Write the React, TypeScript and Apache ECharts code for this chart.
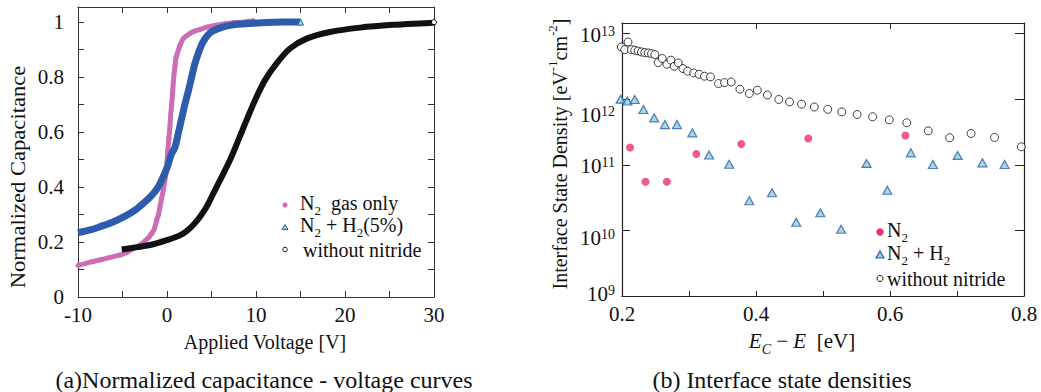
import React, { useEffect, useRef } from 'react';
import * as echarts from 'echarts';

const FONT = '"Liberation Serif", "Times New Roman", serif';

// ---- (a) Normalized capacitance - voltage curves ----
const n2GasV = [-10, -8.5, -7.5, -6.5, -5.25, -4.5, -3.75, -3, -2.6, -2.1, -1.7, -1.4, -1.16, -0.95, -0.79, -0.6, -0.41, -0.11, 0.08, 0.22, 0.34, 0.41, 0.52, 0.64, 0.71, 0.79, 0.9, 1.01, 1.2, 1.46, 1.83, 2.2, 2.58, 3.1, 3.7, 4.5, 5.58, 6.5, 7.45, 8.5, 9.7];
const n2GasC = [0.115, 0.128, 0.135, 0.143, 0.153, 0.163, 0.177, 0.19, 0.2, 0.215, 0.232, 0.25, 0.28, 0.3, 0.328, 0.36, 0.389, 0.45, 0.53, 0.58, 0.625, 0.66, 0.7, 0.75, 0.78, 0.81, 0.84, 0.87, 0.89, 0.916, 0.94, 0.95, 0.959, 0.967, 0.973, 0.982, 0.989, 0.994, 0.998, 1.0, 1.005];

const n2h2V = [-10, -8.5, -7.5, -6, -4.5, -3.5, -2.66, -2, -1.5, -1, -0.6, 0, 0.5, 0.9, 1.3, 1.65, 2.0, 2.4, 2.77, 3.1, 3.5, 4.0, 4.8, 5.9, 7.45, 9.3, 11.2, 13, 15];
const n2h2C = [0.234, 0.245, 0.256, 0.274, 0.298, 0.318, 0.341, 0.36, 0.378, 0.4, 0.425, 0.47, 0.52, 0.545, 0.6, 0.65, 0.7, 0.75, 0.8, 0.845, 0.885, 0.925, 0.96, 0.978, 0.99, 0.995, 0.999, 1.0, 1.0];

const noNitV = [-5.09, -4, -3, -1.91, -1, -0.03, 1, 1.65, 2.2, 2.77, 3.3, 3.71, 4.2, 4.64, 5.39, 5.96, 7.08, 8.02, 8.95, 9.89, 11.01, 12.32, 13.82, 15.69, 18.3, 21.7, 25.4, 29.9, 30];
const noNitC = [0.173, 0.178, 0.183, 0.189, 0.197, 0.207, 0.218, 0.228, 0.24, 0.256, 0.275, 0.292, 0.315, 0.34, 0.389, 0.425, 0.498, 0.571, 0.644, 0.716, 0.789, 0.85, 0.904, 0.94, 0.964, 0.98, 0.99, 0.998, 1.0];

// ---- (b) Interface state densities ----
const nitE = [0.199, 0.204, 0.209, 0.214, 0.219, 0.224, 0.229, 0.234, 0.239, 0.244, 0.249, 0.254, 0.26, 0.267, 0.273, 0.278, 0.284, 0.291, 0.298, 0.307, 0.315, 0.323, 0.332, 0.344, 0.353, 0.363, 0.376, 0.39, 0.402, 0.417, 0.434, 0.45, 0.468, 0.487, 0.507, 0.528, 0.551, 0.574, 0.599, 0.625, 0.657, 0.689, 0.721, 0.756, 0.796];
const nitD = [6.25e12, 5.7e12, 7.45e12, 5.7e12, 5.57e12, 5.43e12, 5.25e12, 5.13e12, 5.07e12, 4.95e12, 4.79e12, 3.62e12, 4.17e12, 3.41e12, 3.93e12, 3.18e12, 3.57e12, 2.93e12, 2.67e12, 2.51e12, 2.4e12, 2.24e12, 2.19e12, 1.73e12, 1.79e12, 1.83e12, 1.42e12, 1.22e12, 1.37e12, 1.16e12, 9.9e11, 9.1e11, 8.4e11, 7.6e11, 7.0e11, 6.4e11, 5.85e11, 5.4e11, 4.84e11, 4.37e11, 3.29e11, 2.58e11, 3.0e11, 2.61e11, 1.88e11];

const h2E = [0.198, 0.208, 0.219, 0.232, 0.248, 0.264, 0.282, 0.305, 0.33, 0.36, 0.39, 0.424, 0.46, 0.496, 0.527, 0.565, 0.596, 0.631, 0.664, 0.701, 0.738, 0.771];
const h2D = [1.0e12, 9.4e11, 9.9e11, 6.97e11, 5.2e11, 4.1e11, 4.1e11, 3.07e11, 1.41e11, 1.02e11, 2.83e10, 3.75e10, 1.33e10, 1.86e10, 1.04e10, 1.05e11, 4.1e10, 1.52e11, 1.01e11, 1.39e11, 1.07e11, 1.01e11];

const n2E = [0.212, 0.235, 0.267, 0.311, 0.378, 0.478, 0.623];
const n2D = [1.84e11, 5.5e10, 5.5e10, 1.46e11, 2.07e11, 2.52e11, 2.8e11];

const xTicksA = [-10, 0, 10, 20, 30];
const yTicksA = ['0', '0.2', '0.4', '0.6', '0.8', '1'];
const logExps = [9, 10, 11, 12, 13];

const PINK_A = '#cc6db6';
const BLUE_A = '#2c5cab';
const CYAN_A = '#8fd3e3';
const PINK_B = '#ee2c7a';
const BLUE_B = '#2f5fae';
const CYAN_B = '#8fcfd5';

const zip = (xs: number[], ys: number[]) => xs.map((x, i) => [x, ys[i]]);

const txt = (size: number, extra: any = {}) => ({ fontSize: size, fontFamily: FONT, fill: '#111', ...extra });

// vertical nudges of the power-of-ten labels, as in the reference
const labelShift: Record<number, number> = { 9: -20, 10: 5, 11: 2, 12: 9, 13: 2 };
const logRich: Record<string, any> = {};
logExps.forEach((e) => {
  const d = labelShift[e];
  const pad = d >= 0 ? [2 * d, 0, 0, 0] : [0, 0, -2 * d, 0];
  logRich['b' + e] = { fontFamily: FONT, fontSize: 21, color: '#111', lineHeight: 26, verticalAlign: 'top', padding: pad };
  logRich['e' + e] = { fontFamily: FONT, fontSize: 14, color: '#111', lineHeight: 14, verticalAlign: 'top', padding: pad };
});

export default function App() {
  const ref = useRef<HTMLDivElement>(null);
  useEffect(() => {
    document.body.style.margin = '0';
    const chart = echarts.init(ref.current!, null, { renderer: 'svg' });
    const lineA = { show: true, onZero: false, lineStyle: { color: '#333', width: 1 } };
    const tickA = { show: true, inside: true, length: 6, lineStyle: { color: '#333', width: 1 } };
    const lineB = { show: true, onZero: false, lineStyle: { color: '#222', width: 1.2 } };
    const labelFont = { fontFamily: FONT, color: '#111' };
    const lastNoNit = noNitV.length - 1;
    const lastH2 = n2h2V.length - 1;
    const option: any = {
      animation: false,
      backgroundColor: '#fff',
      grid: [
        { left: 78, top: 7, width: 356, height: 290 },
        { left: 622, top: 23, width: 402, height: 273 },
      ],
      xAxis: [
        {
          gridIndex: 0, type: 'value', min: -10, max: 30, interval: 5, position: 'bottom',
          axisLine: lineA, axisTick: tickA, splitLine: { show: false },
          axisLabel: { ...labelFont, fontSize: 21, margin: 7, formatter: (v: number) => (xTicksA.includes(v) ? String(v) : '') },
        },
        {
          gridIndex: 0, type: 'value', min: -10, max: 30, interval: 5, position: 'top',
          axisLine: lineA, axisTick: tickA, splitLine: { show: false }, axisLabel: { show: false },
        },
        {
          gridIndex: 1, type: 'value', min: 0.2, max: 0.8, interval: 0.1, position: 'bottom',
          axisLine: lineB, axisTick: { show: true, inside: true, length: 5, lineStyle: { color: '#222' } }, splitLine: { show: false },
          axisLabel: {
            ...labelFont, fontSize: 21, margin: 7,
            formatter: (v: number) => (Math.round(v * 10) % 2 === 0 ? v.toFixed(1) : ''),
          },
        },
        {
          gridIndex: 1, type: 'value', min: 0.2, max: 0.8, interval: 0.2, position: 'top',
          axisLine: lineB, axisTick: { show: true, inside: true, length: 6, lineStyle: { color: '#222' } }, splitLine: { show: false }, axisLabel: { show: false },
        },
      ],
      yAxis: [
        {
          gridIndex: 0, type: 'value', min: 0, max: 1.055, interval: 0.1, position: 'left',
          axisLine: lineA, axisTick: tickA, splitLine: { show: false },
          axisLabel: {
            ...labelFont, fontSize: 21, margin: 14,
            formatter: (v: number) => {
              const r = Math.round(v * 10);
              if (Math.abs(v * 10 - r) > 1e-6 || r % 2 !== 0 || r > 10) return '';
              return yTicksA[r / 2];
            },
          },
        },
        {
          gridIndex: 0, type: 'value', min: 0, max: 1.055, interval: 0.1, position: 'right',
          axisLine: lineA, axisTick: tickA, splitLine: { show: false }, axisLabel: { show: false },
        },
        {
          gridIndex: 1, type: 'log', logBase: 10, min: 1e9, max: 1.45e13, position: 'left',
          axisLine: lineB, axisTick: { show: true, inside: true, length: 8, lineStyle: { color: '#222' } }, splitLine: { show: false },
          axisLabel: {
            margin: 7,
            formatter: (v: number) => {
              const l = Math.log10(v);
              const e = Math.round(l);
              if (Math.abs(l - e) > 0.01 || !logExps.includes(e)) return '';
              return `{b${e}|10}{e${e}|${e}}`;
            },
            rich: logRich,
          },
        },
        {
          gridIndex: 1, type: 'log', logBase: 10, min: 1e9, max: 1.45e13, position: 'right',
          axisLine: lineB, axisTick: { show: true, inside: true, length: 9, lineStyle: { color: '#222' } }, splitLine: { show: false }, axisLabel: { show: false },
        },
      ],
      series: [
        {
          type: 'line', name: 'N2 gas only', xAxisIndex: 0, yAxisIndex: 0, data: zip(n2GasV, n2GasC),
          smooth: 0.3, symbol: 'circle', symbolSize: 5, showSymbol: true, showAllSymbol: true,
          lineStyle: { color: PINK_A, width: 5 }, itemStyle: { color: PINK_A }, z: 2,
        },
        {
          type: 'line', name: 'N2 + H2(5%)', xAxisIndex: 0, yAxisIndex: 0, data: zip(n2h2V, n2h2C),
          smooth: 0.3, symbol: (_v: any, p: any) => (p.dataIndex === lastH2 ? 'triangle' : 'none'), symbolSize: 6, showSymbol: true, showAllSymbol: true,
          lineStyle: { color: BLUE_A, width: 7 }, itemStyle: { color: CYAN_A, borderColor: BLUE_A, borderWidth: 1 }, z: 3,
        },
        {
          type: 'line', name: 'without nitride', xAxisIndex: 0, yAxisIndex: 0, data: zip(noNitV, noNitC),
          smooth: 0.3, symbol: (_v: any, p: any) => (p.dataIndex === lastNoNit ? 'circle' : 'none'), symbolSize: 5, showSymbol: true, showAllSymbol: true,
          lineStyle: { color: '#111', width: 6 }, itemStyle: { color: '#fff', borderColor: '#111', borderWidth: 1 }, z: 4,
        },
        {
          type: 'scatter', name: 'without nitride (b)', xAxisIndex: 2, yAxisIndex: 2, data: zip(nitE, nitD),
          symbol: 'circle', symbolSize: 8, clip: false,
          itemStyle: { color: '#fff', borderColor: '#111', borderWidth: 1 }, z: 2,
        },
        {
          type: 'scatter', name: 'N2 + H2', xAxisIndex: 2, yAxisIndex: 2, data: zip(h2E, h2D),
          symbol: 'triangle', symbolSize: [9, 8], clip: false,
          itemStyle: { color: CYAN_B, borderColor: BLUE_B, borderWidth: 1.2 }, z: 3,
        },
        {
          type: 'scatter', name: 'N2', xAxisIndex: 2, yAxisIndex: 2, data: zip(n2E, n2D),
          symbol: 'circle', symbolSize: 8, clip: false,
          itemStyle: { color: PINK_B }, z: 4,
        },
      ],
      graphic: [
        // axis titles
        { type: 'text', x: 18, y: 177, rotation: Math.PI / 2, scaleX: 1.13, style: { text: 'Normalized Capacitance', ...txt(20), align: 'center', verticalAlign: 'middle' } },
        { type: 'text', x: 265, y: 342, scaleY: 1.08, style: { text: 'Applied Voltage [V]', ...txt(20), align: 'center', verticalAlign: 'middle' } },
        { type: 'text', x: 264, y: 380, style: { text: '(a)Normalized capacitance - voltage curves', ...txt(24), align: 'center', verticalAlign: 'middle' } },
        {
          type: 'text', x: 558, y: 154, rotation: Math.PI / 2,
          style: {
            text: '{m|Interface State Density [eV}{p|-1}{m|cm}{p|-2}{m|]}', align: 'center', verticalAlign: 'middle',
            rich: {
              m: txt(20, { lineHeight: 24, verticalAlign: 'bottom' }),
              p: txt(13, { lineHeight: 13, verticalAlign: 'top' }),
            },
          },
        },
        {
          type: 'text', x: 802, y: 343,
          style: {
            text: '{i|E}{s|C}{m| \u2212 }{i|E}{m|  [eV]}', align: 'center', verticalAlign: 'middle',
            rich: {
              i: txt(21, { fontStyle: 'italic', lineHeight: 26, verticalAlign: 'top' }),
              s: txt(14, { fontStyle: 'italic', lineHeight: 12, verticalAlign: 'bottom' }),
              m: txt(21, { lineHeight: 26, verticalAlign: 'top' }),
            },
          },
        },
        { type: 'text', x: 782, y: 380, style: { text: '(b) Interface state densities', ...txt(24), align: 'center', verticalAlign: 'middle' } },
        // legend (a)
        { type: 'circle', shape: { cx: 285, cy: 205, r: 2.5 }, style: { fill: PINK_A } },
        { type: 'polygon', shape: { points: [[282, 229.5], [288, 229.5], [285, 224.5]] }, style: { fill: CYAN_A, stroke: BLUE_A, lineWidth: 1 } },
        { type: 'circle', shape: { cx: 285, cy: 249.5, r: 2.3 }, style: { fill: '#fff', stroke: '#111', lineWidth: 1 } },
        {
          type: 'text', x: 300, y: 205,
          style: {
            text: '{m|N}{s|2}{m|  gas only}', verticalAlign: 'middle',
            rich: { m: txt(20, { lineHeight: 24, verticalAlign: 'top' }), s: txt(13, { lineHeight: 12, verticalAlign: 'bottom' }) },
          },
        },
        {
          type: 'text', x: 300, y: 227,
          style: {
            text: '{m|N}{s|2}{m| + H}{s|2}{m|(5%)}', verticalAlign: 'middle',
            rich: { m: txt(20, { lineHeight: 24, verticalAlign: 'top' }), s: txt(13, { lineHeight: 12, verticalAlign: 'bottom' }) },
          },
        },
        { type: 'text', x: 303, y: 250, style: { text: 'without nitride', ...txt(20), verticalAlign: 'middle' } },
        // legend (b)
        { type: 'circle', shape: { cx: 880, cy: 232, r: 3.7 }, style: { fill: PINK_B } },
        { type: 'polygon', shape: { points: [[876, 258], [884, 258], [880, 251]] }, style: { fill: CYAN_B, stroke: BLUE_B, lineWidth: 1.2 } },
        { type: 'circle', shape: { cx: 880, cy: 278.5, r: 3 }, style: { fill: '#fff', stroke: '#111', lineWidth: 1 } },
        {
          type: 'text', x: 887, y: 232,
          style: {
            text: '{m|N}{s|2}', verticalAlign: 'middle',
            rich: { m: txt(20, { lineHeight: 24, verticalAlign: 'top' }), s: txt(13, { lineHeight: 12, verticalAlign: 'bottom' }) },
          },
        },
        {
          type: 'text', x: 887, y: 255,
          style: {
            text: '{m|N}{s|2}{m| + H}{s|2}', verticalAlign: 'middle',
            rich: { m: txt(20, { lineHeight: 24, verticalAlign: 'top' }), s: txt(13, { lineHeight: 12, verticalAlign: 'bottom' }) },
          },
        },
        { type: 'text', x: 887, y: 278.5, style: { text: 'without nitride', ...txt(20), verticalAlign: 'middle' } },
      ],
    };
    chart.setOption(option);
    return () => chart.dispose();
  }, []);
  return <div ref={ref} style={{ width: 1041, height: 392 }} />;
}
